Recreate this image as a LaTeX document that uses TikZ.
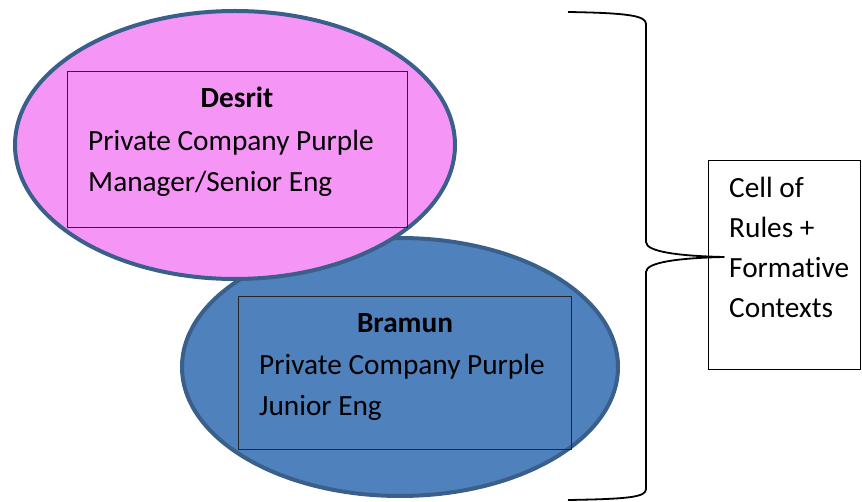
\documentclass[tikz,border=0pt]{standalone}
\usepackage{fontspec}
\setmainfont[Ligatures=CommonOff]{Carlito}
\usetikzlibrary{shapes.geometric}
\definecolor{pinkfill}{HTML}{F595F5}
\definecolor{bluefill}{HTML}{4F81BD}
\definecolor{edgeblue}{HTML}{3A5F8B}
\tikzset{
  oval/.style={ellipse, draw=edgeblue, line width=4pt, inner sep=0pt},
  inbox/.style={draw=black!85, line width=1.2pt, inner sep=0pt, anchor=north west},
  txt/.style={anchor=base west, inner sep=0pt, font=\fontsize{29.3}{34}\selectfont},
  ttl/.style={anchor=base, inner sep=0pt, font=\fontsize{29.3}{34}\selectfont\bfseries},
}
\begin{document}
\begin{tikzpicture}[x=1pt,y=-1pt]
\useasboundingbox (0,0) rectangle (862,502);
% blue ellipse (drawn first, pink on top)
\node[oval, fill=bluefill, minimum width=436pt, minimum height=258pt] (blue) at (400,367) {};
\node[inbox, minimum width=333pt, minimum height=153pt] (bluebox) at (238,296) {};
\node[ttl] (bt) at (405,333) {Bramun};
\node[txt] (b1) at (259,375) {Private Company Purple};
\node[txt] (b2) at (259,416) {Junior Eng};
% pink ellipse
\node[oval, fill=pinkfill, minimum width=440pt, minimum height=268pt] (pink) at (235,145) {};
\node[inbox, minimum width=340pt, minimum height=156pt] (pinkbox) at (67,71) {};
\node[ttl] (pt) at (237,108) {Desrit};
\node[txt] (p1) at (88,151) {Private Company Purple};
\node[txt] (p2) at (88,192) {Manager/Senior Eng};
% cell box
\node[draw=black, line width=1.2pt, inner sep=0pt, anchor=north west, minimum width=152pt, minimum height=209pt] (cell) at (708,160) {};
\node[txt] (c1) at (729,198) {Cell of};
\node[txt] (c2) at (729,238) {Rules +};
\node[txt] (c3) at (729,278) {Formative};
\node[txt] (c4) at (729,318) {Contexts};
% brace
\coordinate (tip) at (724,257);
\draw[line width=1.8pt, line join=round]
  (568,12) .. controls (630,13) and (646,16) .. (646,24)
  -- (646,242) .. controls (646,252) and (680,256) .. (tip)
  .. controls (680,258) and (646,262) .. (646,272)
  -- (646,489) .. controls (646,497) and (630,499) .. (568,500);
\end{tikzpicture}
\end{document}
